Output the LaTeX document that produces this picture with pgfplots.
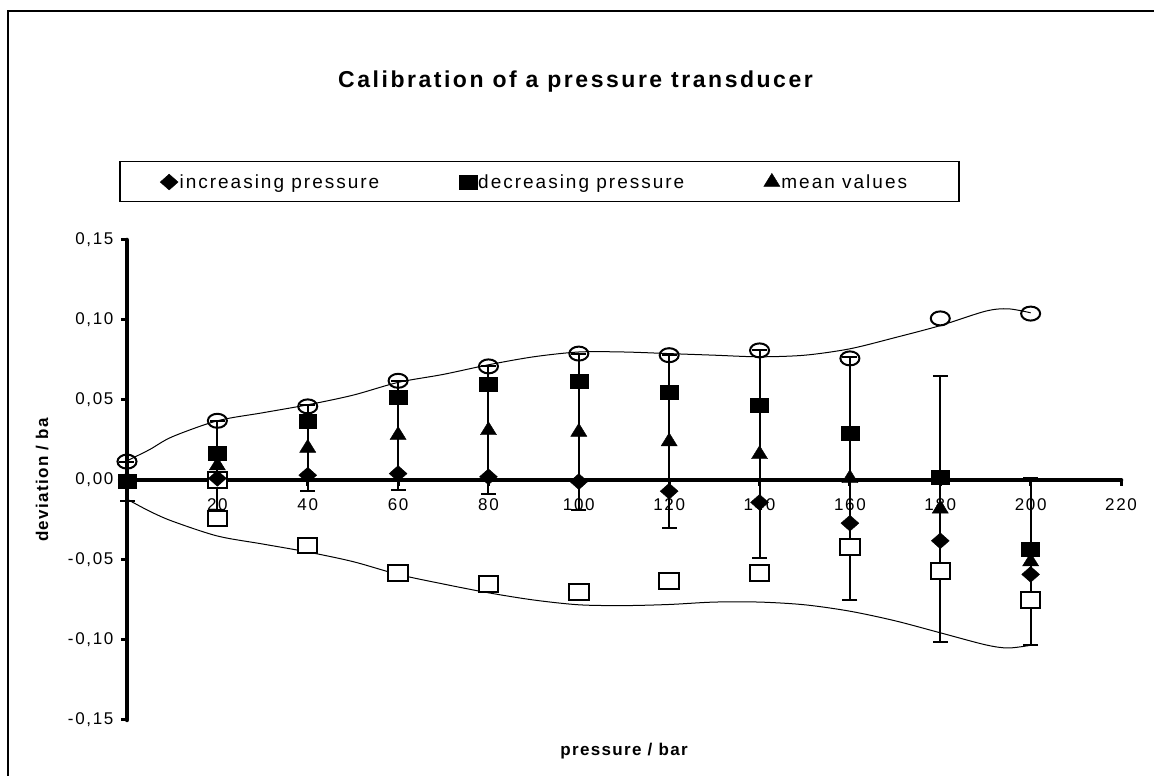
\documentclass[border=0pt]{standalone}
\usepackage{pgfplots}
\pgfplotsset{compat=1.18}
\usepackage{fontspec}
\setmainfont{Liberation Sans}
\newfontfamily\tickf[LetterSpace=10]{Liberation Sans}
\newfontfamily\legf[LetterSpace=10.5]{Liberation Sans}
\newfontfamily\titlef[LetterSpace=11]{Liberation Sans}
\newfontfamily\labf[LetterSpace=8]{Liberation Sans}

\pgfplotsset{legend image code/.code={\draw[mark repeat=1,mark phase=1,#1] plot coordinates {(0pt,0pt)};}}

\pgfplotstableread{
x y e
0 -0.001 0.012
20 0.009 0.028
40 0.020 0.027
60 0.028 0.034
80 0.031 0.040
100 0.030 0.049
120 0.024 0.054
140 0.016 0.065
160 0.001 0.076
180 -0.018 0.083
200 -0.051 0.052
}\meantable

\begin{document}
\begin{tikzpicture}
\useasboundingbox (0pt,0pt) rectangle (1154pt,776pt);
\draw[line width=1.2pt] (8pt,0pt) -- (8pt,765pt) -- (1154pt,765pt);
\node[anchor=base west, inner sep=0pt, font=\titlef\bfseries\fontsize{23}{26}\selectfont] at (338pt,688pt) {Calibration of a pressure transducer};
\draw[line width=1.2pt] (120pt,614.3pt) rectangle (959pt,574.3pt);
\begin{axis}[
 at={(127pt,56pt)}, anchor=south west, scale only axis, width=994pt, height=480pt,
 xmin=0, xmax=220, ymin=-0.15, ymax=0.15,
 axis x line=middle, axis y line=left,
 axis line style={line width=4.5pt, -, line cap=round},
 xtick={0,20,...,220}, xticklabels={0,20,40,60,80,100,120,140,160,180,200,220},
 ytick={-0.15,-0.1,-0.05,0,0.05,0.1,0.15},
 yticklabels={{-0,15},{-0,10},{-0,05},{0,00},{0,05},{0,10},{0,15}},
 tick align=outside, major tick length=6pt,
 tick style={line width=3pt, black},
 tick label style={font=\tickf\fontsize{17}{20}\selectfont},
 xticklabel style={yshift=-9pt},
 yticklabel style={xshift=-4pt},
 xlabel={pressure / bar}, ylabel={deviation / ba},
 xlabel style={at={(axis description cs:0.5,-0.0646)}, anchor=center, font=\labf\bfseries\fontsize{17}{20}\selectfont},
 ylabel style={at={(axis description cs:-0.0855,0.5)}, anchor=center, font=\labf\bfseries\fontsize{17}{20}\selectfont},
 legend columns=3,
 legend style={at={(axis description cs:0.0332,1.1215)}, anchor=west, draw=none, fill=none, inner sep=0pt,
   font=\legf\fontsize{19}{22}\selectfont, nodes={inner xsep=1.5pt, inner ysep=0pt},
   /tikz/every even column/.append style={column sep=78pt}},
 legend cell align=left,
 clip=false,
]
% envelope curves
\addplot[black, line width=1pt, smooth, forget plot] coordinates {
(0,0.012)(5,0.019)(10,0.027)(20,0.037)(30,0.042)(40,0.047)(50,0.053)(60,0.061)(70,0.066)(80,0.072)(90,0.077)(100,0.080)(110,0.080)(120,0.079)(130,0.078)(140,0.077)(150,0.078)(160,0.082)(170,0.089)(180,0.0965)(190,0.1055)(195,0.107)(200,0.1045)};
\addplot[black, line width=1pt, smooth, forget plot] coordinates {
(0,-0.012)(5,-0.0195)(10,-0.0257)(20,-0.035)(30,-0.040)(40,-0.045)(50,-0.051)(60,-0.059)(70,-0.065)(80,-0.0705)(90,-0.075)(100,-0.078)(110,-0.0785)(120,-0.0778)(130,-0.0763)(140,-0.0763)(150,-0.078)(160,-0.082)(170,-0.088)(180,-0.0955)(190,-0.103)(195,-0.105)(200,-0.1033)};
% lower open squares
\addplot[only marks, mark=square*, mark size=7.8pt, mark options={xscale=1.25, fill=white, draw=black, line width=2pt}, forget plot] coordinates {
(20,0.000)(20,-0.024)(40,-0.041)(60,-0.058)(80,-0.065)(100,-0.070)(120,-0.063)(140,-0.058)(160,-0.042)(180,-0.057)(200,-0.075)};
% increasing pressure
\addplot[only marks, mark=square*, mark size=5.6pt, mark options={xscale=1.13, rotate=45, fill=black, draw=black}] coordinates {
(0,0.000)(20,0.001)(40,0.003)(60,0.004)(80,0.002)(100,-0.001)(120,-0.007)(140,-0.014)(160,-0.027)(180,-0.038)(200,-0.059)};
\addlegendentry{increasing pressure}
% decreasing pressure
\addplot[only marks, mark=square*, mark size=7pt, mark options={xscale=1.28, fill=black, draw=black}] coordinates {
(0,-0.001)(20,0.017)(40,0.037)(60,0.052)(80,0.060)(100,0.062)(120,0.055)(140,0.047)(160,0.029)(180,0.002)(200,-0.043)};
\addlegendentry{decreasing pressure}
% mean values with error bars
\addplot[only marks, mark=triangle*, mark size=8.7pt, mark options={xscale=1.07, fill=black, draw=black},
 error bars/.cd, y dir=both, y explicit,
 error bar style={line width=2pt, black},
 error mark options={rotate=90, mark size=7.5pt, line width=2pt, black}]
 table[x=x, y=y, y error=e] {\meantable};
\addlegendentry{mean values}
% upper open circles
\addplot[only marks, mark=o, mark size=7pt, mark options={xscale=1.36, line width=2pt, draw=black}, forget plot] coordinates {
(0,0.0115)(20,0.037)(40,0.046)(60,0.062)(80,0.071)(100,0.079)(120,0.078)(140,0.081)(160,0.076)(180,0.101)(200,0.104)};
\end{axis}
\end{tikzpicture}
\end{document}
